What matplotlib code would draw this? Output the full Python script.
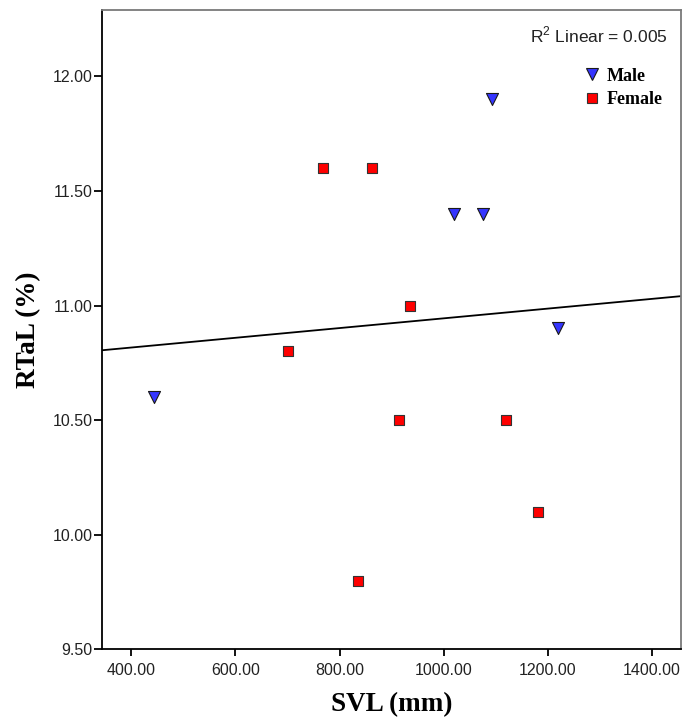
import numpy as np
import matplotlib

matplotlib.use("Agg")
import matplotlib.pyplot as plt
from matplotlib.lines import Line2D

plt.rcParams["mathtext.fontset"] = "custom"
plt.rcParams["mathtext.rm"] = "Liberation Sans"

# SVL (mm) and RTaL (%) per sex
male_svl = [444, 1094, 1020, 1076, 1221]
male_rtal = [10.6, 11.9, 11.4, 11.4, 10.9]
female_svl = [768, 863, 936, 701, 915, 1121, 1181, 836]
female_rtal = [11.6, 11.6, 11.0, 10.8, 10.5, 10.5, 10.1, 9.8]

x_ticks = [400, 600, 800, 1000, 1200, 1400]
y_ticks = [9.5, 10.0, 10.5, 11.0, 11.5, 12.0]
r2_text = "R$^{2}$ Linear = 0.005"

sans = "Liberation Sans"
serif = "Liberation Serif"

fig = plt.figure(figsize=(6.84, 7.22), dpi=100)
ax = fig.add_axes([0.1496, 0.1007, 0.8456, 0.8855])

xlim = (344, 1456)
ylim = (9.5, 12.29)

# linear fit over both sexes, drawn across the full x range
all_x = np.array(male_svl + female_svl, dtype=float)
all_y = np.array(male_rtal + female_rtal, dtype=float)
slope, intercept = np.polyfit(all_x, all_y, 1)
fx = np.array(xlim, dtype=float)
ax.plot(fx, slope * fx + intercept, color="black", lw=1.3, zorder=2)

ax.scatter(male_svl, male_rtal, marker="v", s=75, facecolor="#3535ff",
           edgecolor="#1a1a1a", linewidth=0.8, zorder=3)
ax.scatter(female_svl, female_rtal, marker="s", s=58, facecolor="#ff0000",
           edgecolor="#333333", linewidth=0.8, zorder=3)

ax.set_xlim(*xlim)
ax.set_ylim(*ylim)
ax.set_xticks(x_ticks)
ax.set_xticklabels([f"{v:.2f}" for v in x_ticks], fontfamily=sans, fontsize=11.5)
ax.set_yticks(y_ticks)
ax.set_yticklabels([f"{v:.2f}" for v in y_ticks], fontfamily=sans, fontsize=11.5)
ax.tick_params(axis="x", length=5, width=1.3, pad=5, colors="black")
ax.tick_params(axis="y", length=6, width=1.3, pad=1, colors="black")
for lab in ax.get_xticklabels() + ax.get_yticklabels():
    lab.set_color("#222222")

for side in ("left", "bottom"):
    ax.spines[side].set_color("black")
    ax.spines[side].set_linewidth(1.3)
for side in ("top", "right"):
    ax.spines[side].set_color("#7a7a7a")
    ax.spines[side].set_linewidth(1.3)

ax.set_xlabel("SVL (mm)", fontfamily=serif, fontweight="bold", fontsize=19.5,
              labelpad=10)
ax.set_ylabel("RTaL (%)", fontfamily=serif, fontweight="bold", fontsize=19.5,
              labelpad=8)

ax.text(0.977, 0.96, r2_text, transform=ax.transAxes, ha="right", va="center",
        fontfamily=sans, fontsize=12.5, color="#222222")

handles = [
    Line2D([], [], ls="none", marker="v", markersize=8.5, markerfacecolor="#3535ff",
           markeredgecolor="#1a1a1a", markeredgewidth=0.8, label="Male"),
    Line2D([], [], ls="none", marker="s", markersize=7.5, markerfacecolor="#ff0000",
           markeredgecolor="#333333", markeredgewidth=0.8, label="Female"),
]
ax.legend(handles=handles, loc="upper left", bbox_to_anchor=(0.818, 0.924),
          frameon=False, handlelength=0.8, handletextpad=0.4, borderpad=0,
          labelspacing=0.35, prop={"family": serif, "weight": "bold", "size": 13})

fig.savefig("out.png", dpi=100)
